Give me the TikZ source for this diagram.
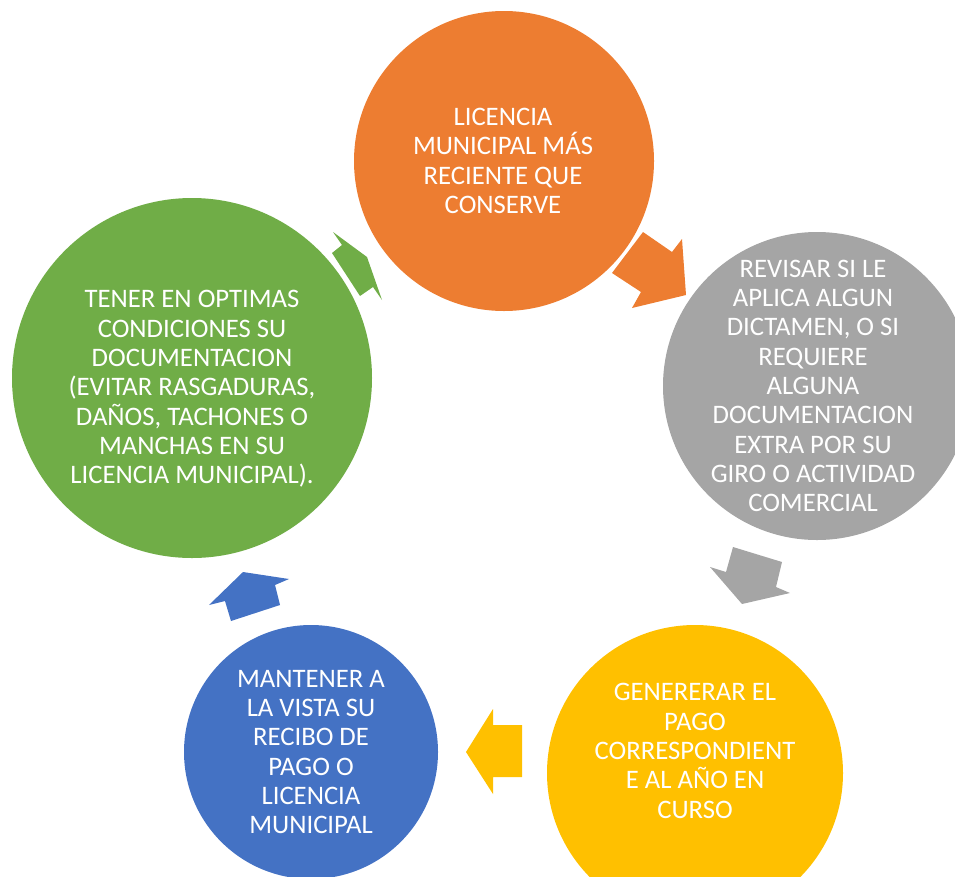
\documentclass[tikz,border=0pt]{standalone}
\usepackage{fontspec}
\setmainfont{Carlito}
\definecolor{cOrange}{HTML}{ED7D31}
\definecolor{cGray}{HTML}{A5A5A5}
\definecolor{cYellow}{HTML}{FFC000}
\definecolor{cBlue}{HTML}{4472C4}
\definecolor{cGreen}{HTML}{70AD47}
\begin{document}
\begin{tikzpicture}[x=1pt,y=-1pt,
  disc/.style={circle,inner sep=0pt,draw=none},
  txt/.style={text=white,align=center,font=\fontsize{26.7}{29.3}\selectfont,inner sep=0pt},
  blk/.style={draw=none}]
\useasboundingbox (0,0) rectangle (955,876);
\clip (0,0) rectangle (955,876);
% circles
\node[disc,fill=cOrange,minimum size=300pt] (orange) at (504,161) {};
\node[disc,fill=cGray,minimum size=308pt] (gray) at (817,386) {};
\node[disc,fill=cYellow,minimum size=296pt] (yellow) at (695,773) {};
\node[disc,fill=cBlue,minimum size=254pt] (blue) at (311,752) {};
\node[disc,fill=cGreen,minimum size=360pt] (green) at (192,378) {};
% texts
\node[txt] (tOrange) at (503,161) {LICENCIA\\MUNICIPAL MÁS\\RECIENTE QUE\\CONSERVE};
\node[txt] (tGray) at (813,386) {REVISAR SI LE\\APLICA ALGUN\\DICTAMEN, O SI\\REQUIERE\\ALGUNA\\DOCUMENTACION\\EXTRA POR SU\\GIRO O ACTIVIDAD\\COMERCIAL};
\node[txt] (tYellow) at (695,751) {GENERERAR EL\\PAGO\\CORRESPONDIENT\\E AL AÑO EN\\CURSO};
\node[txt] (tBlue) at (311,752) {MANTENER A\\LA VISTA SU\\RECIBO DE\\PAGO O\\LICENCIA\\MUNICIPAL};
\node[txt] (tGreen) at (192,389) {TENER EN OPTIMAS\\CONDICIONES SU\\DOCUMENTACION\\(EVITAR RASGADURAS,\\DAÑOS, TACHONES O\\MANCHAS EN SU\\LICENCIA MUNICIPAL).};
% block arrows
\fill[cOrange] (612,273) -- (643,232) -- (672,252) -- (682,239) -- (686,295) -- (632,308) -- (641,292) -- cycle;
\fill[cGray] (733,547) -- (782,562) -- (776,587) -- (790,593) -- (742,604) -- (710,567) -- (726,572) -- cycle;
\fill[cYellow] (522,725) -- (493,725) -- (493,709) -- (466,752) -- (493,794) -- (493,777) -- (522,777) -- cycle;
\fill[cBlue] (231,621) -- (225,601) -- (209,605) -- (243,572) -- (289,579) -- (275,585) -- (280,605) -- cycle;
\fill[cGreen] (333,232) -- (342,245) -- (332,253) -- (360,296) -- (373,287) -- (382,300) -- (367,257) -- cycle;
\end{tikzpicture}
\end{document}
